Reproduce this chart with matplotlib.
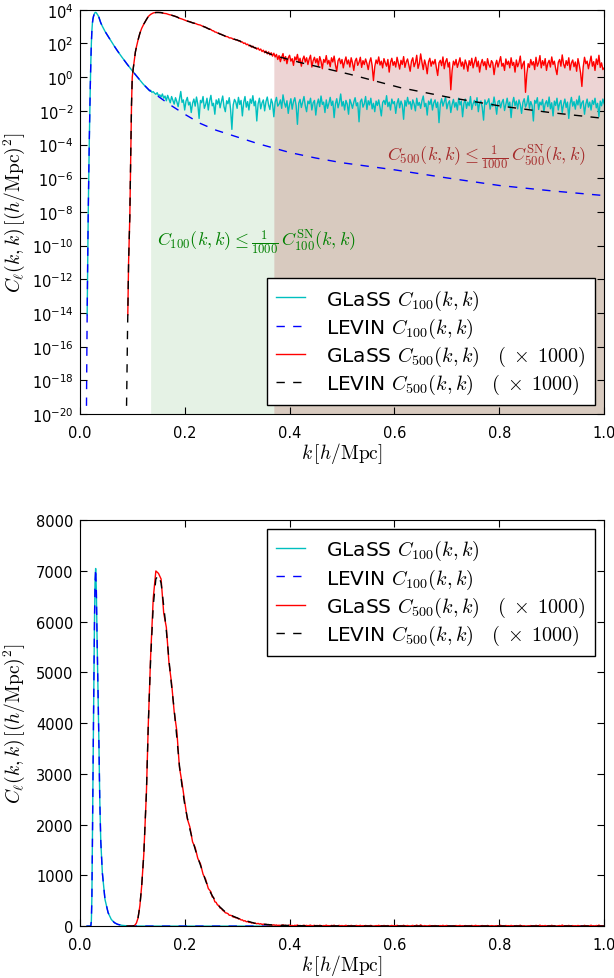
import numpy as np
import matplotlib
matplotlib.use('Agg')
import matplotlib.pyplot as plt
from matplotlib.ticker import FuncFormatter, NullLocator

plt.rcParams['mathtext.fontset'] = 'cm'
plt.rcParams['font.family'] = 'DejaVu Sans'

# LEVIN C_100(k,k), log10 values
k_levin100 = [0.0125, 0.013, 0.0135, 0.014, 0.015, 0.016, 0.017, 0.018, 0.019, 0.020,
              0.021, 0.022, 0.023, 0.024, 0.025, 0.026, 0.027, 0.028, 0.029, 0.0302,
              0.0315, 0.033, 0.035, 0.0365, 0.038, 0.040, 0.043, 0.048, 0.054, 0.060,
              0.066, 0.072, 0.080, 0.090, 0.100, 0.110, 0.120, 0.134, 0.150, 0.170,
              0.200, 0.230, 0.260, 0.300, 0.340, 0.400, 0.450, 0.500, 0.600, 0.700,
              0.800, 0.900, 1.000]
log_levin100 = [-20.5, -18.2, -16.0, -14.1, -10.9, -8.2, -5.9, -3.9, -2.1, -0.5,
                0.9, 2.0, 2.75, 3.2, 3.45, 3.6, 3.7, 3.78, 3.83, 3.848,
                3.82, 3.75, 3.65, 3.55, 3.40, 3.22, 3.02, 2.72, 2.42, 2.12,
                1.83, 1.55, 1.2, 0.78, 0.38, 0.0, -0.38, -0.82, -1.15, -1.6,
                -2.2, -2.75, -3.15, -3.55, -3.95, -4.47, -4.8, -5.08, -5.5, -5.98,
                -6.43, -6.75, -7.03]

# GLaSS C_100(k,k): noisy part, regular k grid 0.13 .. 1.0
log_glass100_noisy = [
    -0.72, -0.80, -0.78, -0.90, -0.86, -0.95, -1.02, -0.92, -1.10, -1.05,
    -1.18, -1.00, -1.25, -1.12, -1.40, -1.08, -1.30, -1.52, -1.15, -1.38,
    -1.60, -1.22, -1.45, -1.75, -1.28, -0.85, -1.50, -1.35, -1.95, -1.42,
    -1.20, -1.65, -1.48, -2.10, -1.55, -1.30, -1.72, -1.18, -1.60, -2.45,
    -1.38, -1.52, -1.15, -1.85, -1.62, -1.25, -1.95, -1.40, -1.08, -1.70,
    -1.55, -2.20, -1.35, -1.60, -1.28, -1.82, -1.45, -1.12, -1.75, -2.05,
    -1.40, -1.58, -1.22, -1.90, -3.10, -1.65, -1.32, -1.48, -1.85, -1.20,
    -1.62, -1.38, -2.30, -1.50, -1.15, -1.78, -1.45, -1.95, -1.30, -1.55,
    -1.10, -1.70, -1.42, -2.60, -1.58, -1.25, -1.88, -1.52, -1.35, -2.00,
    -1.45, -1.18, -1.65, -1.92, -1.30, -1.55, -2.35, -1.48, -1.20, -1.72,
    -1.60, -1.35, -1.85, -1.05, -1.50, -1.78, -1.40, -2.15, -1.62, -1.28,
    -1.90, -1.45, -1.22, -1.68, -2.80, -1.55, -1.32, -1.80, -1.48, -1.15,
    -1.70, -2.05, -1.42, -1.58, -1.25, -1.95, -1.52, -1.38, -2.25, -1.60,
    -1.30, -1.75, -1.12, -1.62, -1.48, -2.10, -1.35, -1.85, -1.55, -1.20,
    -1.68, -1.42, -2.40, -1.58, -1.28, -1.82, -1.50, -1.00, -1.72, -1.45,
    -1.95, -1.38, -1.60, -2.20, -1.32, -1.55, -1.85, -1.48, -1.22, -1.70,
    -1.52, -2.65, -1.45, -1.30, -1.78, -1.58, -1.15, -1.92, -1.40, -1.65,
    -1.25, -1.88, -1.55, -2.05, -1.42, -1.68, -1.35, -1.80, -2.30, -1.50,
    -1.38, -1.62, -1.10, -1.75, -1.48, -1.95, -1.30, -1.58, -1.45, -2.15,
    -1.55, -1.28, -1.82, -1.42, -1.65, -2.50, -1.38, -1.72, -1.20, -1.60,
    -1.45, -1.90, -1.35, -1.58, -2.00, -1.25, -1.68, -1.50, -1.85, -1.40,
    -1.12, -1.75, -1.55, -2.25, -1.42, -1.62, -1.30, -1.95, -1.52, -1.35,
    -1.80, -1.48, -2.70, -1.60, -1.28, -1.72, -1.45, -1.18, -1.88, -1.55,
    -1.40, -2.10, -1.62, -1.32, -1.78, -1.50, -1.95, -1.25, -1.65, -1.42,
    -2.35, -1.55, -1.30, -1.85, -1.48, -1.70, -1.15, -1.92, -1.58, -1.38,
    -1.68, -1.22, -2.05, -1.52, -1.42, -1.80, -2.55, -1.35, -1.62, -1.48,
    -1.28, -1.90, -1.55, -1.72, -1.18, -1.65, -2.20, -1.45, -1.38, -1.82,
    -1.50, -1.32, -1.98, -1.60, -1.25, -1.75, -1.48, -2.40, -1.55, -1.20,
    -1.70, -1.42, -1.88, -1.35, -1.62, -2.15, -1.50, -1.28, -1.78, -1.58,
    -1.10, -1.85, -1.45, -1.68, -2.60, -1.38, -1.55, -1.22, -1.92, -1.48,
    -1.65, -1.32, -2.05, -1.58, -1.40, -1.75, -1.18, -1.88, -1.52, -2.30,
    -1.42, -1.68, -1.25, -1.95, -1.55, -1.38, -2.10, -1.62, -1.30, -1.80,
    -1.48, -2.45, -1.58, -1.20, -1.72, -1.45, -1.90, -1.35, -1.65, -1.12,
    -1.85, -1.52, -1.40, -2.20, -1.60, -1.30, -1.78, -1.48, -1.95, -1.38,
    -1.62, -1.25, -1.82, -1.55, -2.35, -1.42, -1.70, -1.30, -1.58]

# LEVIN C_500(k,k) x 1000
k_levin500 = [0.0885, 0.089, 0.090, 0.091, 0.0915, 0.093, 0.0954, 0.097, 0.0986, 0.100,
              0.1018, 0.104, 0.106, 0.108, 0.111, 0.1145, 0.118, 0.122, 0.127, 0.1306,
              0.135, 0.140, 0.145, 0.150, 0.155, 0.160, 0.165, 0.170, 0.175, 0.180,
              0.185, 0.190, 0.195, 0.200, 0.205, 0.210, 0.215, 0.220, 0.225, 0.230,
              0.235, 0.240, 0.245, 0.250, 0.263, 0.281, 0.304, 0.334, 0.369, 0.420,
              0.515, 0.611, 0.706, 0.8015, 0.897, 1.0]
log_levin500 = [-20.5, -19.8, -17.5, -15.0, -14.1, -11.0, -8.2, -4.8, -1.6, 0.0,
                0.5, 1.0, 1.5, 1.8, 2.2, 2.6, 2.9, 3.15, 3.42, 3.6,
                3.72, 3.80, 3.835, 3.84, 3.83, 3.80, 3.765, 3.72, 3.675, 3.63,
                3.57, 3.50, 3.44, 3.38, 3.33, 3.28, 3.23, 3.18, 3.13, 3.08,
                3.02, 2.95, 2.88, 2.81, 2.62, 2.39, 2.16, 1.74, 1.30, 0.87,
                0.17, -0.62, -1.21, -1.71, -2.1, -2.45]

# GLaSS C_500(k,k) x 1000: rise and peak, then regular grid 0.25 .. 1.0
k_glass500_early = [0.0915, 0.093, 0.0954, 0.097, 0.0986, 0.100, 0.1018, 0.104, 0.106, 0.108,
                    0.111, 0.1145, 0.118, 0.122, 0.127, 0.1306, 0.135, 0.140, 0.145, 0.150,
                    0.155, 0.160, 0.165, 0.170, 0.175, 0.180, 0.185, 0.190, 0.195, 0.200,
                    0.205, 0.210, 0.215, 0.220, 0.225, 0.230, 0.235, 0.240, 0.245]
log_glass500_early = [-14.1, -11.0, -8.2, -4.8, -1.6, 0.0, 0.5, 1.0, 1.5, 1.8,
                      2.2, 2.6, 2.9, 3.15, 3.42, 3.6, 3.725, 3.81, 3.845, 3.842,
                      3.835, 3.79, 3.77, 3.715, 3.68, 3.625, 3.585, 3.495, 3.45, 3.39,
                      3.325, 3.29, 3.22, 3.19, 3.125, 3.09, 3.01, 2.965, 2.87]
log_glass500_noisy = [
    2.83, 2.76, 2.75, 2.68, 2.67, 2.62, 2.61, 2.55, 2.54, 2.49,
    2.47, 2.42, 2.41, 2.39, 2.33, 2.33, 2.31, 2.25, 2.25, 2.21,
    2.22, 2.15, 2.16, 2.08, 2.09, 2.00, 2.03, 1.93, 1.96, 1.86,
    1.89, 1.78, 1.84, 1.74, 1.76, 1.66, 1.73, 1.60, 1.67, 1.52,
    1.60, 1.45, 1.55, 1.38, 1.50, 1.32, 1.45, 1.25, 1.42, 1.20,
    1.35, 1.05, 1.28, 0.92, 1.18, 1.40, 0.98, 1.22, 0.80, 1.15,
    1.30, 0.95, 1.10, 0.70, 1.20, 1.02, 1.35, 0.88, 1.12, 0.65,
    1.05, 1.25, 0.90, 1.15, 0.75, 1.08, 1.30, 0.60, 0.98, 1.18,
    0.85, 1.10, 0.68, 1.22, 0.95, 0.50, 1.05, 0.88, 1.28, 0.78,
    1.00, 0.62, 1.15, 0.90, 1.25, 0.72, 0.35, 0.98, 1.12, 0.80,
    1.05, 0.55, 0.92, 1.20, 0.78, 1.02, 0.60, 1.15, 0.85, 0.40,
    0.95, 1.12, 0.70, 0.88, 1.18, 0.58, 0.98, 0.75, 1.08, 0.82,
    0.45, 0.90, 1.15, 0.68, -0.20, 0.62, 1.02, 0.80, 1.20, 0.72,
    0.95, 0.55, 1.10, 0.85, 0.65, 1.05, 0.30, 0.88, 1.12, 0.70,
    0.92, 0.60, 1.18, 0.82, 0.48, 1.00, 0.75, 1.22, 0.58, 0.90,
    1.08, 0.70, 0.35, 0.95, 1.15, 0.62, 0.85, 1.30, 0.52, 0.80,
    1.38, 0.88, 0.45, 1.02, 0.72, 0.20, 0.90, 1.12, 0.65, 0.95,
    0.78, 1.05, 0.55, 0.10, 0.85, 1.00, 0.68, 1.20, 0.50, 0.92,
    1.10, 0.60, 0.88, -0.75, 0.40, 0.95, 0.72, 1.05, 0.58, 0.85,
    1.15, 0.65, 0.90, 0.48, 1.02, 0.78, 0.35, 0.98, 0.70, 1.12,
    0.55, 0.88, 1.18, 0.62, 0.95, 0.30, 0.80, 1.05, 0.68, 0.92,
    0.45, 1.10, 0.75, 0.58, 0.98, 0.85, 0.15, 0.72, 1.00, 0.60,
    0.90, 1.22, 0.65, 0.82, 0.40, 1.08, 0.75, 0.95, 0.55, 1.15,
    0.70, 0.88, 0.30, 1.02, 0.62, 0.85, 1.25, 0.50, 0.78, 0.95,
    -0.90, 0.20, 0.80, 0.58, 1.05, 0.72, 0.92, 0.45, 1.18, 0.65,
    0.85, 1.28, 0.55, 0.98, 0.70, 1.10, 0.40, 0.82, 1.00, 0.60,
    1.20, 0.75, 0.95, 0.50, 0.15, 0.88, 1.05, 0.65, 1.32, 0.78,
    0.55, 0.98, 0.70, 1.15, 0.42, 0.85, 1.02, 0.62, 0.90, 0.35,
    1.10, 0.72, 0.25, -0.55, 0.60, 1.18, 0.80, 0.95, 0.50, 0.88,
    1.25, 0.65, 0.92, 0.40, 1.08, 0.75, 1.30, 0.58, 0.85, 0.45,
    0.55]

k_green_start = 0.134   # C_100 below C_SN / 1000
k_brown_start = 0.37    # C_500 below C_SN / 1000

# assemble arrays
k_l100 = np.array(k_levin100)
c_l100 = 10.0 ** np.array(log_levin100)
k_grid100 = np.linspace(0.13, 1.0, len(log_glass100_noisy))
early = (k_l100 >= 0.014) & (k_l100 <= 0.125)
k_g100 = np.concatenate([k_l100[early], k_grid100])
c_g100 = np.concatenate([c_l100[early], 10.0 ** np.array(log_glass100_noisy)])

k_l500 = np.array(k_levin500)
c_l500 = 10.0 ** np.array(log_levin500)
k_grid500 = np.linspace(0.25, 1.0, len(log_glass500_noisy))
k_g500 = np.concatenate([k_glass500_early, k_grid500])
c_g500 = 10.0 ** np.concatenate([log_glass500_early, log_glass500_noisy])

fig = plt.figure(figsize=(6.14, 9.79), dpi=100)
ax1 = fig.add_axes([0.130, 0.576, 0.854, 0.413])
ax2 = fig.add_axes([0.130, 0.053, 0.854, 0.4147])

labels = [r'GLaSS $C_{100}(k,k)$', r'LEVIN $C_{100}(k,k)$',
          r'GLaSS $C_{500}(k,k)\quad(\;\times\;1000)$',
          r'LEVIN $C_{500}(k,k)\quad(\;\times\;1000)$']

for ax in (ax1, ax2):
    ax.plot(k_g100, c_g100, color='c', lw=1.0, label=labels[0])
    ax.plot(k_l100, c_l100, 'b--', lw=1.0, dashes=(6, 6), label=labels[1])
    ax.plot(k_g500, c_g500, color='r', lw=1.0, label=labels[2])
    ax.plot(k_l500, c_l500, 'k--', lw=1.0, dashes=(6, 6), label=labels[3])
    ax.set_xlim(0, 1)
    ax.set_xticks([0.0, 0.2, 0.4, 0.6, 0.8, 1.0])
    ax.tick_params(direction='in', top=True, right=True, length=5, labelsize=10.5)
    ax.tick_params(axis='x', pad=8)
    ax.tick_params(axis='y', pad=4.5)
    ax.set_xlabel(r'$k\,[h/\mathrm{Mpc}]$', fontsize=14)
    ax.set_ylabel(r'$C_\ell(k,k)\,[(h/\mathrm{Mpc})^2]$', fontsize=14)
    ax.xaxis.set_label_coords(0.5, -0.064)
    ax.yaxis.set_label_coords(-0.1, 0.5)
    leg = ax.legend(loc='lower right' if ax is ax1 else 'upper right', fontsize=14.5,
                    fancybox=False, edgecolor='k', framealpha=1,
                    handlelength=1.45, handletextpad=1.05, borderpad=0.45,
                    labelspacing=0.2, borderaxespad=0.45)
    leg.get_frame().set_linewidth(1.0)

# shaded regions in the top panel
m100 = k_g100 >= k_green_start
ax1.fill_between(k_g100[m100], 1e-25, c_g100[m100], color='green', alpha=0.1, lw=0)
m500 = k_g500 >= k_brown_start - 1e-6
ax1.fill_between(k_g500[m500], 1e-25, c_g500[m500], color='brown', alpha=0.2, lw=0)

ax1.set_yscale('log')
ax1.set_ylim(1e-20, 1e4)
ax1.set_yticks(10.0 ** np.arange(-20, 5, 2))
ax1.yaxis.set_minor_locator(NullLocator())
ax1.yaxis.set_major_formatter(FuncFormatter(
    lambda v, p: r'$\mathregular{10^{%d}}$' % int(round(np.log10(v)))))

ax1.text(0.147, 10 ** -9.8, r'$C_{100}(k,k) \leq \frac{1}{1000}\, C_{100}^{\rm SN}(k,k)$',
         color='green', fontsize=13, ha='left', va='center')
ax1.text(0.585, 10 ** -4.72, r'$C_{500}(k,k) \leq \frac{1}{1000}\, C_{500}^{\rm SN}(k,k)$',
         color='brown', fontsize=13, ha='left', va='center')

ax2.set_ylim(0, 8000)
ax2.set_yticks(np.arange(0, 8001, 1000))

fig.savefig('out.png', dpi=100, facecolor='white')
